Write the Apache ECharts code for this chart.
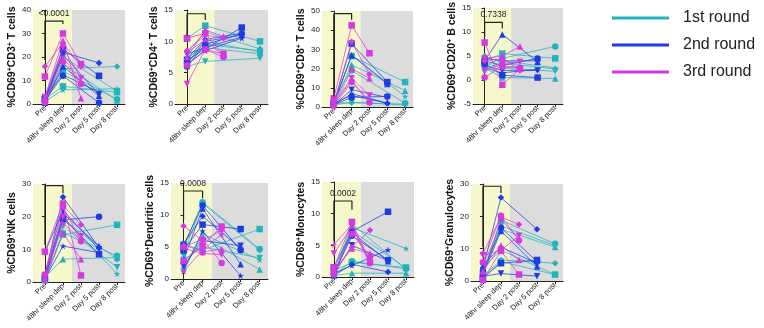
<!DOCTYPE html>
<html>
<head>
<meta charset="utf-8">
<script src="https://cdn.jsdelivr.net/npm/echarts@6/dist/echarts.min.js"></script>
<style>
  html, body { margin: 0; padding: 0; background: #fff; }
  #main { width: 764px; height: 328px; }
</style>
</head>
<body>
<div id="main"></div>
<script>
// time points on the x axis
const categories = ['Pre', '48hr sleep dep', 'Day 2 post', 'Day 5 post', 'Day 8 post'];
const rounds = ['1st round', '2nd round', '3rd round'];
// each round has its own follow-up day (index into categories)
const postIndex = [4, 3, 2];

// one row per subject: [Pre, 48hr sleep dep, follow-up]
const cd3R1 = [[1, 14, 2], [2, 7.5, 5], [0.5, 17, 1.5], [1.5, 20, 5.5], [3, 15, 16], [1, 6, 6.5]];
const cd3R2 = [[1.5, 12, 0.5], [2, 23.5, 12], [0.5, 16, 3.5], [2.5, 21, 4], [1, 22, 17.5], [3, 12.5, 5]];
const cd3R3 = [[0.7, 18, 8.5], [11.7, 30, 17], [3, 27, 2.5], [3, 24, 11], [16, 26, 16], [1, 20, 9]];

const cd4R1 = [[6.5, 9.5, 8.5], [10.5, 12.5, 10], [7, 10, 8.3], [6, 6.8, 7.3], [8.3, 11.5, 8.8], [7.5, 9, 8]];
const cd4R2 = [[6, 9.5, 11.2], [7, 8.8, 12.2], [6.5, 10, 11], [8, 9, 10.7], [7.3, 10.3, 11.3], [6.3, 8.5, 10.5]];
const cd4R3 = [[6.2, 8.7, 7.5], [10.5, 11.3, 7.8], [7.5, 11.8, 10.8], [3.2, 8.7, 8], [8.5, 11, 10.5], [8.3, 10.2, 7.7]];

const cd8R1 = [[1, 19, 2], [2, 26.5, 13], [1.5, 22, 8.5], [1, 2.5, 1], [2, 2.2, 1.5], [1.5, 27, 5.5]];
const cd8R2 = [[1, 5, 5.5], [2, 33, 13], [1.5, 27, 12], [1, 9, 5], [2, 6, 2], [1, 7, 2]];
const cd8R3 = [[0.5, 13, 2.3], [4.5, 42.5, 28], [3, 20, 15], [2, 15, 6], [1, 34, 17], [1.5, 14, 2.5]];

const cd20R1 = [[3, 4.5, 7], [4, 5.5, 4.5], [2.5, 0.5, 0.3], [3.5, 2.5, 1.8], [5, 3.5, 2.3], [2, 4, 2.5]];
const cd20R2 = [[4, 3, 4.5], [3.5, 1, 0.5], [4, 9.5, 3.8], [3, 2, 2], [4.5, 4, 4], [2.5, 1.5, 2.2]];
const cd20R3 = [[0.5, 3, 2.5], [7.8, -1, 2.3], [4.5, 5, 7], [2, 3.5, 3.8], [4, 4.5, 2], [5, 2.5, 2.8]];

const nkR1 = [[1, 15, 8], [0.5, 14.5, 17.5], [1.5, 7, 7.5], [2, 17, 4.5], [0.5, 19, 7], [1, 20, 2.5]];
const nkR2 = [[2, 19, 20], [1, 19.5, 8.5], [1.5, 21, 11], [9, 22, 10], [2, 26, 10.5], [1, 11, 9]];
const nkR3 = [[2.3, 23, 12.5], [9.3, 24, 2], [1, 15, 7], [0.2, 20, 14], [2, 23.5, 17.5], [2.5, 18, 13]];

const dcR1 = [[5, 12, 4.7], [5.4, 4.5, 7.8], [2, 6.5, 1.5], [3, 5, 3.3], [4, 11.8, 4.5], [1.5, 7, 3]];
const dcR2 = [[5.3, 11.5, 4.5], [4.5, 8.5, 7.8], [3, 11, 2.3], [2, 6, 5.2], [5.5, 9.8, 4.8], [1.2, 7.5, 0.5]];
const dcR3 = [[5, 6.2, 2.5], [2.8, 5.2, 8.2], [5.4, 4.2, 4.7], [4.8, 4, 3.8], [8.3, 6, 7.6], [1.2, 4.5, 7]];

const monoR1 = [[0.3, 2.5, 1.3], [1, 2.3, 1.5], [0.2, 0.6, 0.6], [0.5, 8.4, 1.2], [0.3, 7.3, 1.4], [0.2, 7.8, 4.5]];
const monoR2 = [[0.5, 6.5, 2.7], [1.5, 7.2, 10.3], [0.3, 7, 2.5], [0.4, 5, 2.6], [0.2, 2, 0.8], [0.6, 1.8, 4.3]];
const monoR3 = [[0.4, 6.8, 3.2], [1.5, 8.7, 2.3], [1, 4.5, 3.7], [3.7, 8, 2], [0.8, 4.7, 7.4], [5.1, 8.3, 2.2]];

const granR1 = [[2, 18.8, 11.5], [1, 6, 2], [3, 16, 10.5], [5, 17, 11], [1.5, 6.5, 5.5], [4, 9.5, 2]];
const granR2 = [[3, 16.5, 6], [1, 5.5, 6.5], [2, 15.5, 4.5], [1.5, 2.3, 1.5], [4, 25.8, 16], [5, 10.5, 5.5]];
const granR3 = [[5.8, 20.2, 12.5], [0.3, 9.3, 2], [3, 11, 6.5], [8, 9.5, 14], [8.5, 19.8, 17.5], [2.5, 19, 13]];

// p values of Pre vs 48hr, and bracket heights [left leg, top, right leg, text]
const pValues = ['<0.0001', '<0.0001', '<0.0001', '0.7338', '<0.0001', '0.0008', '0.0002', '<0.0001'];
const brackets = [
  [18.7, 35.3, 34, 38.5], [10.9, 14.4, 13.4, 15.6], [5.4, 48.6, 45.5, 52.5], [9, 12, 10.7, 13.6],
  [11.4, 29.5, 27.2, 31.9], [9.2, 13.75, 12.6, 14.9], [5.6, 12, 10.6, 13.2], [10.4, 29.3, 27.2, 31.9]
];

const yMin = [0, 0, 0, -5, 0, 0, 0, 0];
const yMax = [40, 15, 50, 15, 30, 15, 15, 30];
const yStep = [10, 5, 10, 5, 10, 5, 5, 10];
const yNames = [
  '%CD69{s|+}CD3{s|+} T cells', '%CD69{s|+}CD4{s|+} T cells', '%CD69{s|+}CD8{s|+} T cells',
  '%CD69{s|+}CD20{s|+} B cells', '%CD69{s|+}NK cells', '%CD69{s|+}Dendritic cells',
  '%CD69{s|+}Monocytes', '%CD69{s|+}Granulocytes'
];
const panelData = [
  [cd3R1, cd3R2, cd3R3], [cd4R1, cd4R2, cd4R3], [cd8R1, cd8R2, cd8R3], [cd20R1, cd20R2, cd20R3],
  [nkR1, nkR2, nkR3], [dcR1, dcR2, dcR3], [monoR1, monoR2, monoR3], [granR1, granR2, granR3]
];

// plot boxes [left, top, width, height]
const boxes = [
  [33, 10, 92, 94], [175, 10, 93, 94], [322, 11, 91, 96], [473, 7, 90, 97],
  [33, 184, 92, 98], [171, 183, 97, 96], [322, 182, 92, 95], [471, 184, 92, 97]
];

const colors = ['#22b4be', '#1b3ce6', '#d838df'];
const invTri = 'path://M0,0 L10,0 L5,9 Z';
const star = 'path://M5,0 L6.2,3.6 L10,3.6 L6.9,5.8 L8.1,9.5 L5,7.2 L1.9,9.5 L3.1,5.8 L0,3.6 L3.8,3.6 Z';
const markers = ['circle', 'rect', 'triangle', invTri, 'diamond', star];
const xLo = -0.66, xHi = 4.44;

const grid = [], xAxis = [], yAxis = [], series = [];

boxes.forEach((b, i) => {
  grid.push({ left: b[0], top: b[1], width: b[2], height: b[3] });
  xAxis.push({
    type: 'value', gridIndex: i, min: xLo, max: xHi,
    splitLine: { show: false },
    axisLine: { show: true, onZero: false, lineStyle: { color: '#222' } },
    axisTick: { show: true, customValues: [0, 1, 2, 3, 4], length: 3, lineStyle: { color: '#222' } },
    axisLabel: {
      customValues: [0, 1, 2, 3, 4], formatter: v => categories[v],
      rotate: 45, fontSize: 7.5, margin: 3, color: '#222'
    }
  });
  yAxis.push({
    type: 'value', gridIndex: i, min: yMin[i], max: yMax[i], interval: yStep[i],
    name: yNames[i], nameLocation: 'middle', nameGap: 15,
    nameTextStyle: {
      fontSize: 10.5, fontWeight: 'bold', color: '#111',
      rich: { s: { fontSize: 7, fontWeight: 'bold', color: '#111', verticalAlign: 'top', padding: [0, 0, 4, 0] } }
    },
    splitLine: { show: false },
    axisLine: { show: true, lineStyle: { color: '#222' } },
    axisTick: { show: true, length: 3, lineStyle: { color: '#222' } },
    axisLabel: { fontSize: 8, margin: 2, color: '#222' }
  });

  panelData[i].forEach((rows, r) => {
    rows.forEach((row, k) => {
      series.push({
        type: 'line', name: rounds[r], xAxisIndex: i, yAxisIndex: i,
        data: [[0, row[0]], [1, row[1]], [postIndex[r], row[2]]],
        symbol: markers[k], symbolSize: 6.5,
        lineStyle: { width: 0.9, color: colors[r], opacity: 0.85 },
        itemStyle: { color: colors[r] },
        z: 3 + r, silent: true
      });
    });
  });

  const br = brackets[i];
  series.push({
    type: 'line', xAxisIndex: i, yAxisIndex: i, clip: false, silent: true, z: 10,
    data: [[0, br[0]], [0, br[1]], [1, br[1]], [1, br[2]]],
    symbol: 'none', lineStyle: { color: '#222', width: 1.2 },
    markPoint: {
      symbol: 'circle', symbolSize: 0, silent: true,
      data: [{ coord: [0.5, br[3]] }],
      label: { show: true, formatter: pValues[i], fontSize: 8.5, color: '#222' }
    },
    markArea: {
      silent: true, z: 0,
      data: [
        [{ xAxis: xLo, itemStyle: { color: '#f6f8cc' } }, { xAxis: 1.5 }],
        [{ xAxis: 1.5, itemStyle: { color: '#dcdcdc' } }, { xAxis: xHi }]
      ]
    }
  });
});

const chart = echarts.init(document.getElementById('main'));
chart.setOption({
  animation: false,
  textStyle: { fontFamily: 'Liberation Sans, Arial, sans-serif' },
  legend: {
    data: rounds, orient: 'vertical', left: 607, top: 5,
    icon: 'rect', itemWidth: 57, itemHeight: 3, itemGap: 11,
    textStyle: { fontSize: 16, color: '#222', padding: [0, 0, 0, 9] }
  },
  grid, xAxis, yAxis, series
});
</script>
</body>
</html>
